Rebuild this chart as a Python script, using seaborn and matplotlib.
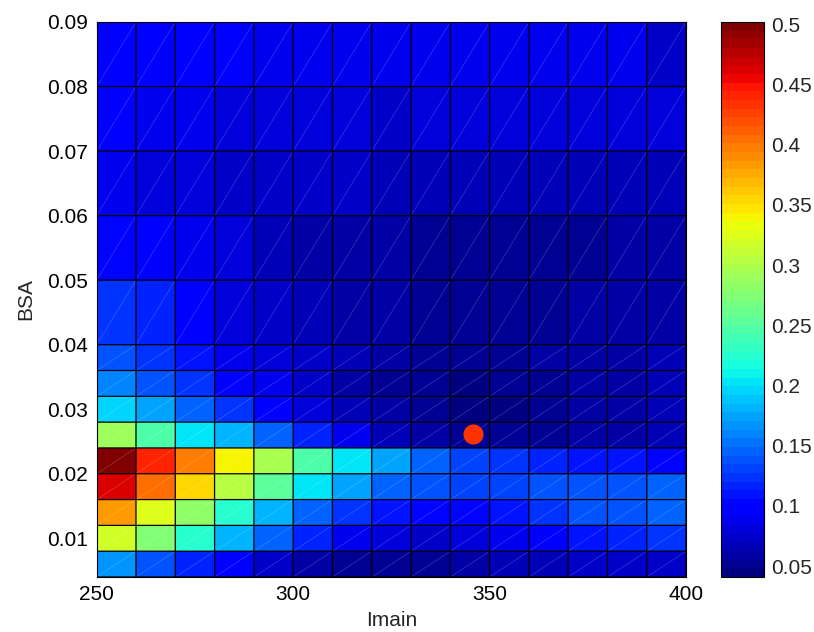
import numpy as np
import matplotlib
matplotlib.use("Agg")
import matplotlib.pyplot as plt
import seaborn as sns
from matplotlib.collections import LineCollection

# ---- data ----
imain_edges = [250, 260, 270, 280, 290, 300, 310, 320, 330, 340, 350, 360, 370, 380, 390, 400]
bsa_edges = [0.004, 0.008, 0.012, 0.016, 0.020, 0.024, 0.028, 0.032, 0.036, 0.040,
             0.05, 0.06, 0.07, 0.08, 0.09]

# cell values, bottom row (BSA 0.004) first, columns Imain 250..390
row_0004 = [0.166, 0.139, 0.117, 0.092, 0.076, 0.0625, 0.0534, 0.0512, 0.0534, 0.058, 0.0647, 0.0693, 0.0738, 0.076, 0.076]
row_0008 = [0.320, 0.273, 0.2275, 0.1845, 0.148, 0.117, 0.0873, 0.0806, 0.076, 0.0806, 0.0896, 0.0963, 0.1076, 0.1167, 0.1212]
row_0012 = [0.381, 0.329, 0.282, 0.2275, 0.1845, 0.148, 0.1257, 0.1076, 0.1031, 0.1031, 0.1122, 0.1257, 0.1348, 0.1393, 0.1438]
row_0016 = [0.465, 0.408, 0.354, 0.304, 0.250, 0.205, 0.171, 0.148, 0.1348, 0.1302, 0.1302, 0.1348, 0.1393, 0.1415, 0.1438]
row_0020 = [0.502, 0.444, 0.395, 0.338, 0.295, 0.2455, 0.2026, 0.171, 0.1438, 0.1302, 0.1235, 0.1167, 0.1122, 0.1076, 0.1031]
row_0024 = [0.291, 0.2455, 0.205, 0.180, 0.1438, 0.1167, 0.0873, 0.0693, 0.0557, 0.0489, 0.0489, 0.0512, 0.0557, 0.0602, 0.0647]
row_0028 = [0.198, 0.171, 0.1438, 0.1212, 0.0986, 0.0806, 0.067, 0.0557, 0.0489, 0.0443, 0.0466, 0.0512, 0.0557, 0.0602, 0.0647]
row_0032 = [0.157, 0.139, 0.1257, 0.0986, 0.0851, 0.0715, 0.0625, 0.0534, 0.0489, 0.0457, 0.0489, 0.0534, 0.058, 0.0625, 0.0647]
row_0036 = [0.1348, 0.1257, 0.1076, 0.0873, 0.0783, 0.0715, 0.0647, 0.058, 0.0534, 0.0512, 0.0534, 0.0557, 0.0602, 0.0625, 0.067]
row_0040 = [0.1257, 0.1167, 0.0918, 0.0806, 0.0738, 0.067, 0.0602, 0.0557, 0.0534, 0.0512, 0.0512, 0.0534, 0.0557, 0.058, 0.0602]
row_0050 = [0.1031, 0.0918, 0.0851, 0.0783, 0.0693, 0.0602, 0.058, 0.0557, 0.0534, 0.0534, 0.0534, 0.0534, 0.0534, 0.0557, 0.0557]
row_0060 = [0.0873, 0.0828, 0.0806, 0.076, 0.076, 0.0715, 0.0715, 0.067, 0.067, 0.067, 0.067, 0.067, 0.067, 0.0693, 0.0693]
row_0070 = [0.0918, 0.0873, 0.0851, 0.0828, 0.0806, 0.0783, 0.0783, 0.076, 0.0783, 0.0783, 0.0783, 0.0783, 0.0783, 0.0783, 0.0783]
row_0080 = [0.0963, 0.0941, 0.0918, 0.0918, 0.0896, 0.0896, 0.0873, 0.0851, 0.0851, 0.0851, 0.0851, 0.0851, 0.0851, 0.0851, 0.076]

opt_imain = [345.8]
opt_bsa = [0.0261]

x_ticks = [250, 300, 350, 400]
y_ticks = [0.01, 0.02, 0.03, 0.04, 0.05, 0.06, 0.07, 0.08, 0.09]
cbar_ticks = [0.05, 0.1, 0.15, 0.2, 0.25, 0.3, 0.35, 0.4, 0.45, 0.5]
cbar_labels = ["0.05", "0.1", "0.15", "0.2", "0.25", "0.3", "0.35", "0.4", "0.45", "0.5"]

Z = np.array([row_0004, row_0008, row_0012, row_0016, row_0020, row_0024, row_0028,
              row_0032, row_0036, row_0040, row_0050, row_0060, row_0070, row_0080])

# ---- style ----
sns.set_style("white")
plt.rcParams["font.family"] = ["Liberation Sans", "DejaVu Sans"]
plt.rcParams["font.size"] = 15

fig = plt.figure(figsize=(8.14, 6.32), dpi=100)
ax = fig.add_axes([0.1188, 0.0870, 0.7240, 0.8782])

cmap = plt.get_cmap("jet", 64)
mesh = ax.pcolormesh(imain_edges, bsa_edges, Z, cmap=cmap, vmin=0.041, vmax=0.502,
                     edgecolors="none", shading="flat", zorder=1)

# faint diagonal seams of the triangulated patches
segs = []
for i in range(len(bsa_edges) - 1):
    for j in range(len(imain_edges) - 1):
        segs.append([(imain_edges[j], bsa_edges[i]), (imain_edges[j + 1], bsa_edges[i + 1])])
ax.add_collection(LineCollection(segs, colors="white", linewidths=0.5, alpha=0.22, zorder=2))

# cell edges
ax.hlines(bsa_edges, imain_edges[0], imain_edges[-1], colors="black",
          linewidth=0.9, snap=False, zorder=3)
ax.vlines(imain_edges, bsa_edges[0], bsa_edges[-1], colors="black",
          linewidth=0.9, snap=False, zorder=3)

sns.scatterplot(x=opt_imain, y=opt_bsa, ax=ax, color="#ff3300", s=210,
                edgecolor="#ff3300", linewidth=0, zorder=5, legend=False)

ax.set_xlim(imain_edges[0], imain_edges[-1])
ax.set_ylim(bsa_edges[0], bsa_edges[-1])
ax.set_xticks(x_ticks)
ax.set_xticklabels([str(v) for v in x_ticks])
ax.set_yticks(y_ticks)
ax.set_yticklabels([f"{v:.2f}" for v in y_ticks])
ax.tick_params(direction="in", top=True, right=True, length=5, width=0.8,
               labelsize=15, pad=6, colors="black")
ax.set_xlabel("Imain", fontsize=15, labelpad=5)
ax.set_ylabel("BSA", fontsize=15, labelpad=9)
for sp in ax.spines.values():
    sp.set_visible(True)
    sp.set_color("black")
    sp.set_linewidth(0.8)
    sp.set_zorder(6)

cax = fig.add_axes([0.8854, 0.0870, 0.0532, 0.8782])
cb = fig.colorbar(mesh, cax=cax)
cb.set_ticks(cbar_ticks)
cb.set_ticklabels(cbar_labels)
cax.tick_params(direction="in", left=True, right=True, length=5, width=0.8,
                labelsize=15, pad=5)
cb.outline.set_edgecolor("black")
cb.outline.set_linewidth(0.8)

fig.savefig("out.png", dpi=100)
